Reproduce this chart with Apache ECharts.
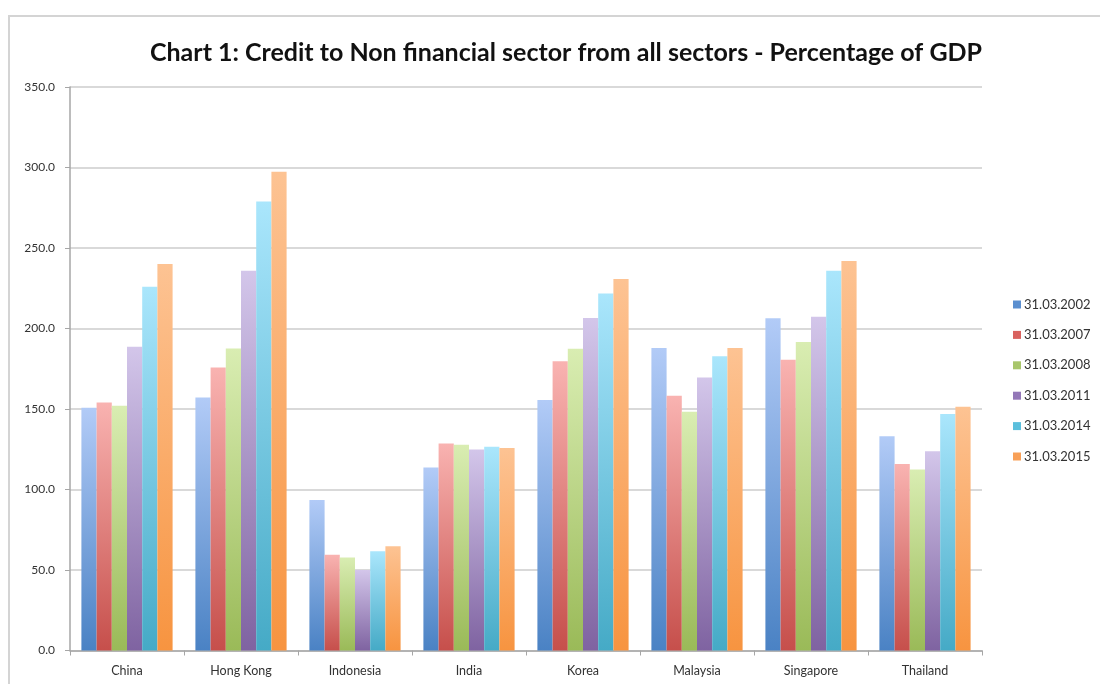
<!DOCTYPE html>
<html>
<head>
<meta charset="utf-8">
<script src="https://cdn.jsdelivr.net/npm/echarts@6/dist/echarts.min.js"></script>
<style>html,body{margin:0;padding:0;background:#fff;}#c{width:1100px;height:684px;}</style>
</head>
<body>
<div id="c"></div>
<script>
var categories = ['China', 'Hong Kong', 'Indonesia', 'India', 'Korea', 'Malaysia', 'Singapore', 'Thailand'];
var seriesNames = ['31.03.2002', '31.03.2007', '31.03.2008', '31.03.2011', '31.03.2014', '31.03.2015'];
var v2002 = [150.8, 157.2, 93.5, 113.7, 155.6, 187.9, 206.3, 133.0];
var v2007 = [154.1, 175.8, 59.5, 128.6, 179.6, 158.3, 180.6, 115.8];
var v2008 = [152.0, 187.6, 57.8, 127.8, 187.5, 148.3, 191.6, 112.5];
var v2011 = [188.7, 235.9, 50.0, 124.9, 206.5, 169.6, 207.3, 123.7];
var v2014 = [226.0, 278.9, 61.6, 126.6, 221.8, 182.7, 235.9, 146.9];
var v2015 = [240.0, 297.4, 64.7, 125.8, 230.7, 187.9, 242.0, 151.4];
var yTicks = [0, 50, 100, 150, 200, 250, 300, 350];

var allValues = [v2002, v2007, v2008, v2011, v2014, v2015];
var topColors = ['#b2cbf7', '#f9b3b1', '#d9edb2', '#d3c6ea', '#aae6fc', '#fdc393'];
var botColors = ['#4a82c4', '#c64f4b', '#9aba58', '#7f63a1', '#45aac6', '#f79440'];
var legColors = ['#5b8fd0', '#d9625f', '#a8c66b', '#9478b8', '#5bbfdc', '#f8a058'];

var series = seriesNames.map(function (n, i) {
  return {
    name: n,
    type: 'bar',
    data: allValues[i],
    barGap: '0%',
    barCategoryGap: '20%',
    itemStyle: {
      color: new echarts.graphic.LinearGradient(0, 0, 0, 1, [
        { offset: 0, color: topColors[i] },
        { offset: 1, color: botColors[i] }
      ])
    }
  };
});

var chart = echarts.init(document.getElementById('c'));
chart.setOption({
  animation: false,
  backgroundColor: '#fff',
  graphic: [{
    type: 'polyline',
    shape: { points: [[9, 700], [9, 16], [1110, 16]] },
    style: { stroke: '#d4d4d4', lineWidth: 2, fill: null },
    silent: true
  }],
  title: {
    text: 'Chart 1: Credit to Non financial sector from all sectors - Percentage of GDP',
    left: 561,
    textAlign: 'center',
    top: 35,
    textStyle: { fontFamily: 'Lato', fontWeight: 'bold', fontSize: 25, color: '#111' }
  },
  legend: {
    orient: 'vertical',
    left: 1008,
    top: 293,
    itemWidth: 8,
    itemHeight: 8,
    itemGap: 17.4,
    icon: 'rect',
    data: seriesNames.map(function (n, i) { return { name: n, itemStyle: { color: legColors[i] } }; }),
    textStyle: { fontFamily: 'Lato', fontSize: 13, color: '#333', padding: [0, 0, 0, -2] }
  },
  grid: { left: 70, right: 118, top: 87, bottom: 33.5, containLabel: false },
  xAxis: {
    type: 'category',
    data: categories,
    axisLine: { lineStyle: { color: '#a6a6a6', width: 1.5 } },
    axisTick: { show: true, length: 5, lineStyle: { color: '#a6a6a6' } },
    axisLabel: { fontFamily: 'Lato', fontSize: 12.5, color: '#333', margin: 14 }
  },
  yAxis: {
    type: 'value',
    min: 0,
    max: 350,
    interval: 50,
    axisLine: { show: true, lineStyle: { color: '#a6a6a6', width: 1.5 } },
    axisTick: { show: true, length: 5, lineStyle: { color: '#a6a6a6' } },
    splitLine: { lineStyle: { color: '#cccccc', width: 1.5 } },
    axisLabel: {
      fontFamily: 'Lato', fontSize: 12, color: '#333', margin: 15,
      formatter: function (v) { return yTicks.indexOf(v) >= 0 ? v.toFixed(1) : ''; }
    }
  },
  series: series
});
</script>
</body>
</html>
